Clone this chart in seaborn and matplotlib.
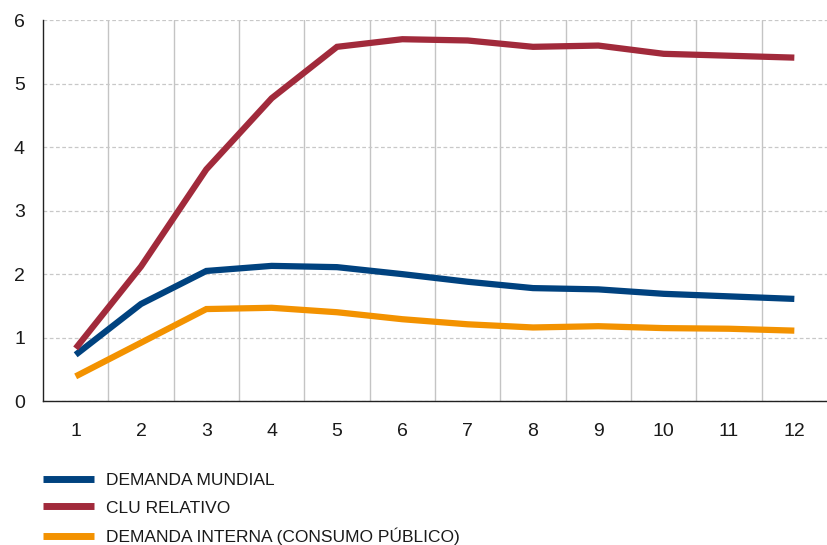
import numpy as np
import pandas as pd
import matplotlib
matplotlib.use("Agg")
import matplotlib.pyplot as plt
import seaborn as sns
from matplotlib.ticker import FixedLocator

# data
periods = list(range(1, 13))
demanda_mundial = [0.73, 1.53, 2.05, 2.13, 2.11, 2.00, 1.88, 1.78, 1.76, 1.69, 1.65, 1.61]
clu_relativo = [0.83, 2.12, 3.65, 4.77, 5.58, 5.70, 5.68, 5.58, 5.60, 5.47, 5.44, 5.41]
demanda_interna = [0.39, 0.92, 1.45, 1.47, 1.40, 1.29, 1.21, 1.16, 1.18, 1.15, 1.14, 1.11]

series_names = ["DEMANDA MUNDIAL", "CLU RELATIVO", "DEMANDA INTERNA (CONSUMO PÚBLICO)"]
series_colors = ["#00427f", "#a12a3b", "#f39200"]

df = pd.concat([
    pd.DataFrame({"periodo": periods, "valor": vals, "serie": name})
    for name, vals in zip(series_names, [demanda_mundial, clu_relativo, demanda_interna])
])

sns.set_style("white")
plt.rcParams['font.family'] = ['Liberation Sans', 'DejaVu Sans']

fig = plt.figure(figsize=(8.27, 5.45), dpi=100)
ax = fig.add_axes([0.052, 0.264, 0.948, 0.699])

sns.lineplot(data=df, x="periodo", y="valor", hue="serie", hue_order=series_names,
             palette=series_colors, linewidth=4.5, ax=ax, zorder=3)
for line in ax.lines:
    line.set_solid_capstyle("butt")
    line.set_solid_joinstyle("miter")

ax.set_xlim(0.5, 12.5)
ax.set_ylim(0, 6)
ax.set_xticks(periods)
ax.set_yticks(range(0, 7))
ax.xaxis.set_minor_locator(FixedLocator(np.arange(1.5, 12.5, 1)))
ax.tick_params(axis="both", which="major", length=0, labelsize=14, colors="#1a1a1a")
ax.tick_params(axis="x", which="major", pad=16)
ax.tick_params(axis="y", which="major", pad=13)
ax.tick_params(axis="x", which="minor", direction="in", length=6, width=1, color="#222222")
ax.grid(axis="x", which="minor", color="#c4c4c4", linestyle="-", linewidth=1)
ax.grid(axis="y", which="major", color="#c8c8c8", linestyle=(0, (3, 2)), linewidth=0.9)
ax.set_axisbelow(True)
ax.set_xlabel("")
ax.set_ylabel("")

for side in ["top", "right"]:
    ax.spines[side].set_visible(False)
for side in ["left", "bottom"]:
    ax.spines[side].set_color("#222222")
    ax.spines[side].set_linewidth(1)

leg = ax.get_legend()
handles = leg.legend_handles
leg.remove()
fig.legend(handles, series_names, loc="upper left", bbox_to_anchor=(0.052, 0.132),
           frameon=False, handlelength=2.93, labelspacing=0.7,
           handletextpad=0.72, borderaxespad=0, borderpad=0,
           prop={"family": ["Liberation Sans", "DejaVu Sans"], "size": 12.5})
for h in fig.legends[0].legend_handles:
    h.set_linewidth(5)
    h.set_solid_capstyle("butt")
for t in fig.legends[0].get_texts():
    t.set_color("#1a1a1a")

fig.savefig("out.png", dpi=100)
